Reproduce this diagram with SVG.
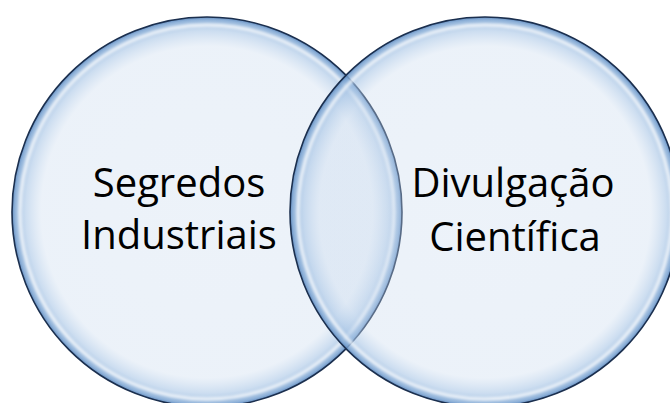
<svg xmlns="http://www.w3.org/2000/svg" width="670" height="403" viewBox="0 0 670 403">
  <defs>
    <radialGradient id="bubble" cx="0.5" cy="0.5" r="0.5">
      <stop offset="0" stop-color="#C9DAEE" stop-opacity="0.34"/>
      <stop offset="0.85" stop-color="#C9DAEE" stop-opacity="0.36"/>
      <stop offset="0.93" stop-color="#A9C6E6" stop-opacity="0.6"/>
      <stop offset="0.985" stop-color="#7EA6D3" stop-opacity="0.85"/>
      <stop offset="1" stop-color="#5A86BC" stop-opacity="0.95"/>
    </radialGradient>
    <filter id="soft" x="-10%" y="-10%" width="120%" height="120%">
      <feGaussianBlur stdDeviation="1.6"/>
    </filter>
  </defs>
  <style>
    .disc { fill: url(#bubble); }
    .rim { fill: none; stroke: #1B2F4E; stroke-width: 1.6; }
    .shine { fill: none; stroke: #FFFFFF; stroke-width: 3; stroke-opacity: 0.85; filter: url(#soft); }
    .label { font-family: "Open Sans", "Noto Sans", "Liberation Sans", sans-serif; font-size: 40px; fill: #000000; text-anchor: middle; }
  </style>
  <rect width="670" height="403" fill="#FFFFFF"/>
  <g id="connectors"/>
  <g id="node-left">
    <circle class="disc" cx="207" cy="212" r="195"/>
    <circle class="shine" cx="207" cy="212" r="187"/>
    <circle class="rim" cx="207" cy="212" r="195"/>
  </g>
  <g id="node-right">
    <circle class="disc" cx="485" cy="212" r="195"/>
    <circle class="shine" cx="485" cy="212" r="187"/>
    <circle class="rim" cx="485" cy="212" r="195"/>
  </g>
  <g id="labels">
    <text class="label" x="179" y="197">Segredos</text>
    <text class="label" x="179" y="249">Industriais</text>
    <text class="label" x="513" y="197">Divulgação</text>
    <text class="label" x="515" y="251">Científica</text>
  </g>
</svg>
